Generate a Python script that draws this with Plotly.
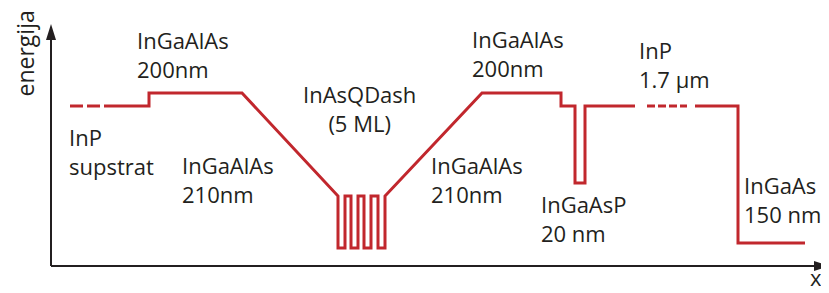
import plotly.graph_objects as go

# ---- data (position along growth direction, energy; arbitrary units) ----
sub_dash_x = [70, 100]
sub_dash_e = [160, 160]

main_x = [104, 149, 149, 242, 338, 338, 345, 345, 351, 351, 358, 358, 364, 364,
          371, 371, 378, 378, 385, 385, 482, 561, 561, 575, 575, 585, 585, 635]
main_e = [160, 160, 173, 173, 70, 18, 18, 70, 70, 18, 18, 70, 70, 18,
          18, 70, 70, 18, 18, 70, 173, 173, 160, 160, 83, 83, 160, 160]

cap_dash_x = [647, 687]
cap_dash_e = [160, 160]

top_x = [695, 738, 738, 805]
top_e = [160, 160, 23, 23]

labels = ["InGaAlAs<br>200nm", "InP<br>supstrat", "InGaAlAs<br>210nm",
          "InAsQDash<br>(5 ML)", "InGaAlAs<br>210nm", "InGaAlAs<br>200nm",
          "InGaAsP<br>20 nm", "InP<br>1.7 µm", "InGaAs<br>150 nm"]
# label anchor positions (x, top) and alignment
label_pos = [(135, 243, "left"), (67, 146, "left"), (180, 118, "left"),
             (359, 189, "center"), (429, 118, "left"), (470, 244, "left"),
             (539, 79, "left"), (637, 233, "left"), (742, 98, "left")]

RED = "#c1272d"
DARK = "#231f20"
FONT = "Open Sans"

# the page body adds an 8px margin; the figure is sized to fit the window
OFF = 8

fig = go.Figure()
fig.add_trace(go.Scatter(x=sub_dash_x, y=sub_dash_e, mode="lines",
                         line=dict(color=RED, width=3, dash="13px,4px")))
fig.add_trace(go.Scatter(x=main_x, y=main_e, mode="lines",
                         line=dict(color=RED, width=3)))
fig.add_trace(go.Scatter(x=cap_dash_x, y=cap_dash_e, mode="lines",
                         line=dict(color=RED, width=3, dash="8px,3px")))
fig.add_trace(go.Scatter(x=top_x, y=top_e, mode="lines",
                         line=dict(color=RED, width=3)))

anns = []
for t, (x, y, al) in zip(labels, label_pos):
    anns.append(dict(x=x, y=y, xref="x", yref="y", text=t, showarrow=False,
                     xanchor=al, yanchor="top", align=al,
                     font=dict(family=FONT, size=22, color=DARK)))
anns.append(dict(x=816, y=-27, xref="x", yref="y", text="x", showarrow=False,
                 xanchor="center", yanchor="bottom", borderpad=0,
                 font=dict(family=FONT, size=22, color=DARK)))
anns.append(dict(x=24.5, y=212, xref="x", yref="y", text="energija", showarrow=False,
                 textangle=-90, xanchor="center", yanchor="middle", borderpad=0,
                 font=dict(family=FONT, size=23, color=DARK)))

shapes = [
    dict(type="line", xref="x", yref="y", x0=51, y0=0, x1=51, y1=228,
         line=dict(color=DARK, width=2)),
    dict(type="line", xref="x", yref="y", x0=51, y0=0, x1=816, y1=0,
         line=dict(color=DARK, width=2)),
    dict(type="path", xref="x", yref="y", path="M 51,242 L 46,226 L 56,226 Z",
         fillcolor=DARK, line=dict(width=0)),
    dict(type="path", xref="x", yref="y", path="M 829,0 L 814,5 L 814,-5 Z",
         fillcolor=DARK, line=dict(width=0)),
]

fig.update_layout(
    width=829 - OFF, height=293 - OFF, margin=dict(l=0, r=0, t=0, b=0),
    paper_bgcolor="white", plot_bgcolor="white", showlegend=False,
    xaxis=dict(range=[OFF, 829], visible=False, fixedrange=True),
    yaxis=dict(range=[-27, 266 - OFF], visible=False, fixedrange=True),
    annotations=anns, shapes=shapes,
)
fig.write_html("out.html")
